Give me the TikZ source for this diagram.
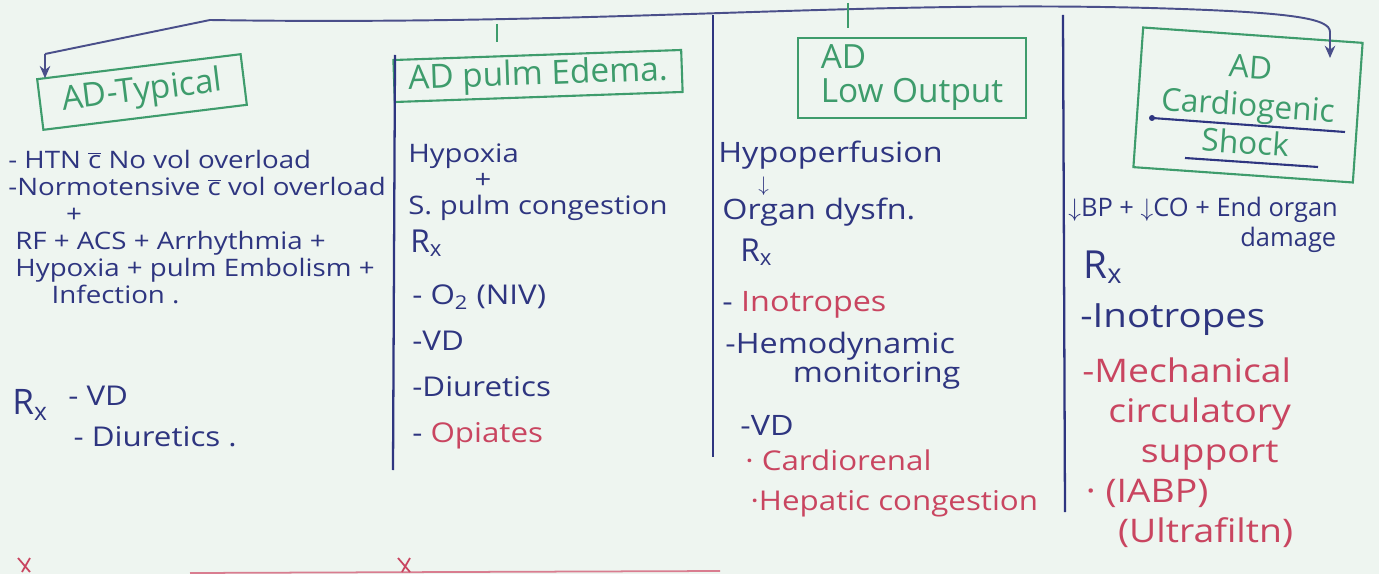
\documentclass[tikz,border=0pt]{standalone}
\usepackage{fontspec}
\setmainfont{Open Sans}
\newfontfamily\handw[FakeStretch=1.15]{Open Sans}
\usepackage{xcolor}
\usepackage{tikz}
\usetikzlibrary{arrows.meta,positioning,calc}
\definecolor{paper}{HTML}{EEF5F0}
\definecolor{nblue}{HTML}{2E3580}
\definecolor{ngreen}{HTML}{3E9C6C}
\definecolor{nred}{HTML}{C94560}
\definecolor{nbus}{HTML}{4A4F8A}
\newcommand{\rx}{R\textsubscript{x}}
\newcommand{\cbar}{$\overline{\mbox{c}}$}

\begin{document}
\begin{tikzpicture}[x=0.02cm,y=-0.02cm,
  every node/.style={inner sep=0pt,text=nblue},
  headbox/.style={draw=ngreen,line width=1.2pt,text=ngreen,font=\fontsize{19}{21}\selectfont},
  note/.style={align=left,font=\handw\fontsize{13.7}{15.4}\selectfont},
  bignote/.style={align=left,font=\handw\fontsize{15.5}{23}\selectfont},
  rxmark/.style={font=\fontsize{18}{18}\selectfont},
  bus/.style={draw=nbus,line width=1.1pt},
  divider/.style={draw=nblue,line width=1.3pt}]
  \fill[paper] (0,0) rectangle (1379,574);
  \useasboundingbox (0,0) rectangle (1379,574);

  % headings
  \node[headbox,rotate=7,minimum width=4.1cm,minimum height=1.02cm] (b1) at (142,92) {AD-Typical};
  \node[headbox,rotate=2,minimum width=5.76cm,minimum height=0.84cm] (b2) at (538,76) {AD pulm Edema.};
  \node[headbox,align=left,minimum width=4.56cm,minimum height=1.6cm,
        font=\fontsize{19}{19.4}\selectfont] (b3) at (912,78) {AD\\Low Output};
  \node[headbox,rotate=-4,align=center,minimum width=4.4cm,minimum height=2.8cm,
        font=\fontsize{18}{21.6}\selectfont] (b4) at (1248,105) {AD\\Cardiogenic\\Shock};
  \draw[nblue,line width=1.2pt] (1152,118) -- (1345,132);
  \fill[nblue] (1152,118) circle (3);
  \draw[nblue,line width=1.2pt] (1185,158) -- (1318,167);

  % bus across the top
  \coordinate (busL) at (45,54);
  \coordinate (busR) at (1330,32);
  \coordinate (t2) at (497,24);
  \coordinate (t3) at (848,3);
  \coordinate (a4) at (1330,58);
  \draw[bus] (busL) -- (210,20) .. controls (600,26) and (850,0) .. (1150,8)
    .. controls (1290,12) and (1330,18) .. (busR);
  \draw[bus,-{Stealth[length=7pt,width=6pt]}] (busL) -- (b1.north west -| busL);
  \draw[bus,-{Stealth[length=7pt,width=6pt]}] (busR) -- (a4);
  \draw[ngreen,line width=1.1pt] (t2) -- ++(0,18);
  \draw[ngreen,line width=1.1pt] (t3) -- ++(0,25);

  % column rules
  \draw[divider] (395,55) -- (393,470);
  \draw[divider] (713,15) -- (713,457);
  \draw[divider] (1063,15) -- (1065,512);

  % AD typical
  \node[note,anchor=north west] (c1) at (8,150)
    {- HTN \cbar{} No vol overload\\
     -Normotensive \cbar{} vol overload\\
     \hspace{2.4em}+\\
     \hspace{4pt}RF + ACS + Arrhythmia +\\
     \hspace{4pt}Hypoxia + pulm Embolism +\\
     \hspace{1.8em}Infection .};
  \node[rxmark,anchor=west,font=\fontsize{20}{20}\selectfont] (rx1) at (12,405) {\rx};
  \node[bignote,anchor=north west] (c1rx) at (68,386) {- VD\\\hspace{3pt}- Diuretics .};

  % AD pulm edema
  \node[note,anchor=north west,font=\handw\fontsize{14.5}{15}\selectfont] (c2) at (408,143)
    {Hypoxia\\ \hspace{2.6em}+\\S. pulm congestion};
  \node[rxmark,anchor=west] (rx2) at (410,243) {\rx};
  \node[bignote,anchor=north west,font=\handw\fontsize{15.5}{26.2}\selectfont] (c2rx) at (412,284)
    {- O\textsubscript{2} (NIV)\\-VD\\-Diuretics\\- \textcolor{nred}{Opiates}};

  % AD low output
  \node[note,anchor=west,font=\handw\fontsize{16}{16}\selectfont] (c3a) at (718,155) {Hypoperfusion};
  \node[note,anchor=west,font=\fontsize{13}{13}\selectfont] (c3ar) at (758,186) {$\downarrow$};
  \node[note,anchor=west,font=\handw\fontsize{16}{16}\selectfont] (c3b) at (722,212) {Organ dysfn.};
  \node[rxmark,anchor=west] (rx3) at (740,252) {\rx};
  \node[bignote,anchor=west,font=\handw\fontsize{16}{16}\selectfont] (c3c) at (722,305) {- \textcolor{nred}{Inotropes}};
  \node[bignote,anchor=north west,font=\handw\fontsize{16}{15.4}\selectfont] (c3d) at (725,332)
    {-Hemodynamic\\\hspace{2.4em}monitoring};
  \node[bignote,anchor=west,font=\handw\fontsize{16}{16}\selectfont] (c3e) at (740,425) {-VD};
  \node[bignote,anchor=north west,text=nred,font=\handw\fontsize{15.5}{23.3}\selectfont] (c3f) at (745,449)
    {· Cardiorenal\\\hspace{3pt}·Hepatic congestion};

  % AD cardiogenic shock
  \node[note,anchor=west,font=\fontsize{14.5}{15}\selectfont] (c4a) at (1068,210) {$\downarrow$BP + $\downarrow$CO + End organ};
  \node[note,anchor=west,font=\fontsize{14.5}{15}\selectfont] (c4b) at (1240,240) {damage};
  \node[rxmark,anchor=west,font=\fontsize{22}{22}\selectfont] (rx4) at (1083,267) {\rx};
  \node[bignote,anchor=west,font=\handw\fontsize{19}{19}\selectfont] (c4c) at (1080,320) {-Inotropes};
  \node[bignote,anchor=north west,text=nred,font=\handw\fontsize{18.5}{22.8}\selectfont] (c4d) at (1082,357)
    {-Mechanical\\
     \hspace{0.8em}circulatory\\
     \hspace{1.8em}support\\
     \hspace{2pt}· (IABP)\\
     \hspace{1.1em}(Ultrafiltn)};

  % bottom edge
  \draw[nred!70,line width=1pt] (190,573) -- (720,571);
  \draw[nred,line width=1pt] (18,558) -- (30,572) (30,558) -- (22,572);
  \draw[nred,line width=1pt] (398,558) -- (410,572) (410,558) -- (402,572);
\end{tikzpicture}
\end{document}
